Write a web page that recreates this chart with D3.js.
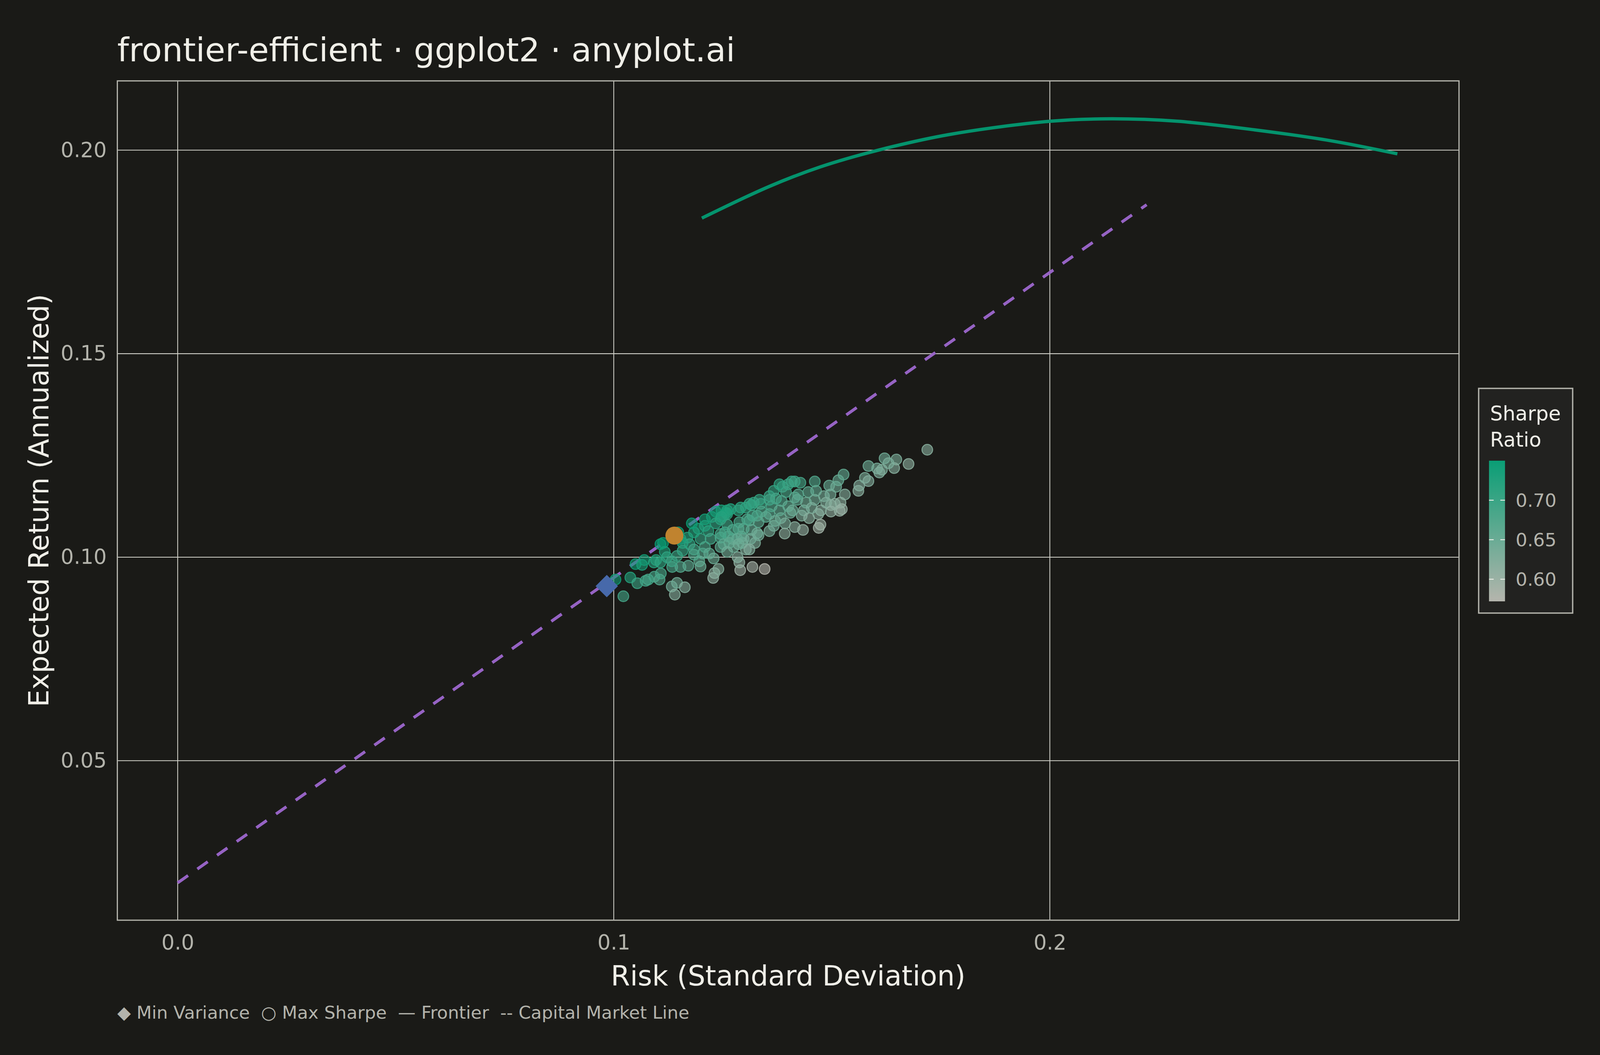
<!DOCTYPE html>
<html>
<head>
<meta charset="utf-8">
<script src="https://cdn.jsdelivr.net/npm/d3@7"></script>
<style>
  html, body { margin: 0; padding: 0; background: #1a1a17; overflow: hidden; }
  svg { display: block; width: 100vw; height: 100vh; font-family: "DejaVu Sans", sans-serif; }
</style>
</head>
<body>
<svg id="chart"></svg>
<script>
// random portfolios (risk, return, sharpe)
const portfolioRisk = [
  0.1004, 0.1022, 0.1038, 0.1050, 0.1054, 0.1065, 0.1070, 0.1073, 0.1079, 0.1093,
  0.1105, 0.1108, 0.1133, 0.1145, 0.1163, 0.1140, 0.1134, 0.1153, 0.1171, 0.1199,
  0.1228, 0.1231, 0.1240, 0.1290, 0.1288, 0.1284, 0.1318, 0.1346, 0.1113, 0.1117,
  0.1097, 0.1092, 0.1107, 0.1122, 0.1133, 0.1145, 0.1158, 0.1169, 0.1174, 0.1184,
  0.1194, 0.1199, 0.1204, 0.1209, 0.1217, 0.1225, 0.1222, 0.1234, 0.1245, 0.1255,
  0.1260, 0.1273, 0.1275, 0.1286, 0.1286, 0.1298, 0.1303, 0.1303, 0.1311, 0.1316,
  0.1324, 0.1321, 0.1329, 0.1332, 0.1329, 0.1332, 0.1293, 0.1263, 0.1252, 0.1337,
  0.1288, 0.1357, 0.1367, 0.1357, 0.1362, 0.1357, 0.1367, 0.1387, 0.1408, 0.1428,
  0.1395, 0.1385, 0.1383, 0.1393, 0.1392, 0.1415, 0.1434, 0.1405, 0.1415, 0.1423,
  0.1436, 0.1431, 0.1446, 0.1461, 0.1464, 0.1448, 0.1470, 0.1469, 0.1461, 0.1482,
  0.1494, 0.1497, 0.1498, 0.1510, 0.1515, 0.1527, 0.1530, 0.1518, 0.1520, 0.1561,
  0.1563, 0.1576, 0.1584, 0.1584, 0.1604, 0.1609, 0.1258, 0.1245, 0.1719, 0.1676,
  0.1648, 0.1643, 0.1621, 0.1630, 0.1615, 0.1474, 0.1234, 0.1260, 0.1316, 0.1184,
  0.1209, 0.1158, 0.1196, 0.1219, 0.1245, 0.1107, 0.1245, 0.1260, 0.1273, 0.1298,
  0.1306, 0.1318, 0.1339, 0.1349, 0.1370, 0.1380, 0.1400, 0.1410, 0.1421, 0.1441,
  0.1454, 0.1487, 0.1507, 0.1523, 0.1498, 0.1475, 0.1252, 0.1265, 0.1295, 0.1283,
  0.1314, 0.1247, 0.1268, 0.1291, 0.1311, 0.1334, 0.1357, 0.1372, 0.1380, 0.1400,
  0.1415, 0.1209, 0.1247, 0.1179, 0.1148, 0.1153, 0.1184, 0.1229, 0.1260, 0.1286,
  0.1311
];
const portfolioReturn = [
  0.0945, 0.0904, 0.0950, 0.0983, 0.0936, 0.0981, 0.0993, 0.0942, 0.0945, 0.0952,
  0.0945, 0.0960, 0.0928, 0.0937, 0.0926, 0.0908, 0.0976, 0.0976, 0.0979, 0.0977,
  0.0949, 0.0961, 0.0971, 0.0968, 0.0987, 0.1000, 0.0976, 0.0971, 0.1035, 0.1013,
  0.0993, 0.0987, 0.0987, 0.1000, 0.0990, 0.1003, 0.1016, 0.1048, 0.1032, 0.1019,
  0.1070, 0.1045, 0.1009, 0.1025, 0.1064, 0.1099, 0.1045, 0.1083, 0.1025, 0.1061,
  0.1106, 0.1045, 0.1025, 0.1115, 0.1070, 0.1045, 0.1122, 0.1019, 0.1090, 0.1067,
  0.1035, 0.1134, 0.1102, 0.1054, 0.1059, 0.1086, 0.1051, 0.1051, 0.1102, 0.1131,
  0.1086, 0.1064, 0.1077, 0.1106, 0.1125, 0.1150, 0.1163, 0.1173, 0.1186, 0.1183,
  0.1160, 0.1138, 0.1096, 0.1083, 0.1058, 0.1074, 0.1067, 0.1109, 0.1147, 0.1154,
  0.1115, 0.1102, 0.1160, 0.1186, 0.1163, 0.1096, 0.1072, 0.1106, 0.1141, 0.1150,
  0.1176, 0.1154, 0.1128, 0.1173, 0.1189, 0.1203, 0.1154, 0.1114, 0.1134, 0.1163,
  0.1176, 0.1195, 0.1187, 0.1224, 0.1218, 0.1208, 0.1109, 0.1093, 0.1264, 0.1229,
  0.1240, 0.1219, 0.1243, 0.1231, 0.1215, 0.1080, 0.1112, 0.1115, 0.1128, 0.1061,
  0.1077, 0.1035, 0.0990, 0.1009, 0.1048, 0.1032, 0.1057, 0.1080, 0.1067, 0.1070,
  0.1093, 0.1102, 0.1112, 0.1099, 0.1089, 0.1115, 0.1125, 0.1115, 0.1141, 0.1134,
  0.1121, 0.1134, 0.1131, 0.1118, 0.1112, 0.1115, 0.1032, 0.1035, 0.1035, 0.1045,
  0.1045, 0.1115, 0.1118, 0.1122, 0.1131, 0.1141, 0.1141, 0.1144, 0.1179, 0.1179,
  0.1186, 0.1093, 0.1099, 0.1083, 0.1061, 0.1045, 0.1006, 0.0997, 0.1013, 0.1032,
  0.1019
];
const portfolioSharpe = [
  0.742, 0.689, 0.723, 0.746, 0.698, 0.733, 0.741, 0.692, 0.690, 0.688,
  0.674, 0.686, 0.643, 0.644, 0.624, 0.621, 0.684, 0.673, 0.665, 0.648,
  0.610, 0.618, 0.622, 0.595, 0.611, 0.623, 0.589, 0.573, 0.750, 0.728,
  0.723, 0.721, 0.711, 0.713, 0.697, 0.701, 0.705, 0.725, 0.709, 0.692,
  0.729, 0.705, 0.672, 0.682, 0.710, 0.734, 0.691, 0.716, 0.663, 0.686,
  0.719, 0.664, 0.647, 0.712, 0.677, 0.651, 0.708, 0.629, 0.679, 0.659,
  0.631, 0.707, 0.679, 0.641, 0.646, 0.665, 0.658, 0.674, 0.720, 0.696,
  0.688, 0.637, 0.642, 0.668, 0.679, 0.700, 0.704, 0.702, 0.700, 0.688,
  0.688, 0.677, 0.648, 0.634, 0.616, 0.618, 0.605, 0.647, 0.669, 0.670,
  0.637, 0.630, 0.664, 0.675, 0.658, 0.619, 0.593, 0.617, 0.644, 0.641,
  0.653, 0.637, 0.619, 0.644, 0.653, 0.657, 0.624, 0.602, 0.614, 0.617,
  0.624, 0.631, 0.623, 0.646, 0.635, 0.626, 0.723, 0.717, 0.619, 0.614,
  0.631, 0.620, 0.643, 0.633, 0.628, 0.597, 0.739, 0.726, 0.705, 0.727,
  0.725, 0.721, 0.661, 0.664, 0.681, 0.750, 0.688, 0.698, 0.681, 0.670,
  0.684, 0.684, 0.681, 0.666, 0.649, 0.663, 0.661, 0.649, 0.662, 0.648,
  0.633, 0.628, 0.618, 0.603, 0.609, 0.620, 0.665, 0.660, 0.645, 0.659,
  0.643, 0.734, 0.724, 0.714, 0.710, 0.705, 0.693, 0.688, 0.709, 0.699,
  0.697, 0.739, 0.721, 0.749, 0.750, 0.733, 0.681, 0.649, 0.645, 0.647,
  0.625
];

// efficient frontier curve
const frontierRisk   = [0.1202, 0.1357, 0.1474, 0.1603, 0.1767, 0.2001, 0.2141, 0.2293, 0.2469, 0.2645, 0.2797];
const frontierReturn = [0.1833, 0.1911, 0.1959, 0.1999, 0.2038, 0.2071, 0.2077, 0.2071, 0.2050, 0.2023, 0.1991];

// capital market line
const cmlRisk   = [0.0, 0.2222];
const cmlReturn = [0.0200, 0.1866];

// highlighted portfolios
const minVariance = [0.0984, 0.0929];
const maxSharpe   = [0.1139, 0.1053];

const xTicks = [0.0, 0.1, 0.2];
const yTicks = [0.05, 0.10, 0.15, 0.20];
const sharpeTicks = [0.60, 0.65, 0.70];
const sharpeDomain = [0.572, 0.750];

// layout is laid out for 4800x2700; vertical positions follow the real viewport shape
const W = 4800, H = 2700;
const vw = window.innerWidth || W, vh = window.innerHeight || H;
const HV = W * vh / vw;
const sy = HV / H;
const Y = v => v * sy;

const panel = { left: 352, right: 4377, top: Y(207), bottom: Y(2355) };

const bg = "#1a1a17";
const inkTitle = "#f0efe8";
const inkSoft = "#b3b3ab";

const svg = d3.select("#chart")
  .attr("viewBox", `0 0 ${W} ${HV}`)
  .attr("preserveAspectRatio", "xMidYMid meet");

svg.append("rect").attr("width", W).attr("height", HV).attr("fill", bg);

const x = d3.scaleLinear().domain([-0.01384, 0.29383]).range([panel.left, panel.right]);
const y = d3.scaleLinear().domain([0.01081, 0.21702]).range([panel.bottom, panel.top]);
const color = d3.scaleLinear()
  .domain(sharpeDomain)
  .range(["#b5b5ad", "#0a9e75"])
  .interpolate(d3.interpolateRgb)
  .clamp(true);

// grid
const grid = svg.append("g").attr("class", "grid");
grid.selectAll("line.gx").data(xTicks).join("line")
  .attr("class", "gx")
  .attr("x1", d => x(d)).attr("x2", d => x(d))
  .attr("y1", panel.top).attr("y2", panel.bottom)
  .attr("stroke", "#d4d4cc").attr("stroke-width", 2.4);
grid.selectAll("line.gy").data(yTicks).join("line")
  .attr("class", "gy")
  .attr("x1", panel.left).attr("x2", panel.right)
  .attr("y1", d => y(d)).attr("y2", d => y(d))
  .attr("stroke", "#d4d4cc").attr("stroke-width", 2.4);

// axes (labels only)
const xAxis = d3.axisBottom(x).tickValues(xTicks).tickSize(0).tickPadding(Y(76) - 45).tickFormat(d3.format(".1f"));
const gx = svg.append("g").attr("transform", `translate(0,${panel.bottom})`).call(xAxis);
const yAxis = d3.axisLeft(y).tickValues(yTicks).tickSize(0).tickPadding(32).tickFormat(d3.format(".2f"));
const gy = svg.append("g").attr("transform", `translate(${panel.left},0)`).call(yAxis);
[gx, gy].forEach(g => {
  g.select(".domain").remove();
  g.selectAll("text")
    .attr("fill", inkSoft)
    .style("font-size", "62px")
    .style("font-family", "DejaVu Sans, sans-serif");
});

// capital market line
const line = d3.line().x(d => x(d[0])).y(d => y(d[1]));
svg.append("path")
  .datum(d3.zip(cmlRisk, cmlReturn))
  .attr("d", line)
  .attr("fill", "none")
  .attr("stroke", "#9663c4")
  .attr("stroke-width", 9)
  .attr("stroke-dasharray", "38,34");

// frontier
svg.append("path")
  .datum(d3.zip(frontierRisk, frontierReturn))
  .attr("d", line.curve(d3.curveCatmullRom))
  .attr("fill", "none")
  .attr("stroke", "#04936d")
  .attr("stroke-width", 10);

// portfolios
svg.append("g").selectAll("circle")
  .data(d3.range(portfolioRisk.length))
  .join("circle")
  .attr("cx", i => x(portfolioRisk[i]))
  .attr("cy", i => y(portfolioReturn[i]))
  .attr("r", 16)
  .attr("fill", i => color(portfolioSharpe[i]))
  .attr("fill-opacity", 0.6)
  .attr("stroke", i => color(portfolioSharpe[i]))
  .attr("stroke-opacity", 0.85)
  .attr("stroke-width", 3);

// min variance diamond
svg.append("path")
  .attr("d", d3.symbol(d3.symbolSquare, 2256)())
  .attr("transform", `translate(${x(minVariance[0])},${y(minVariance[1])}) rotate(45)`)
  .attr("fill", "#4769aa");

// max sharpe point
svg.append("circle")
  .attr("cx", x(maxSharpe[0]))
  .attr("cy", y(maxSharpe[1]))
  .attr("r", 27)
  .attr("fill", "#c0832f");

// panel border
svg.append("rect")
  .attr("x", panel.left).attr("y", panel.top)
  .attr("width", panel.right - panel.left)
  .attr("height", panel.bottom - panel.top)
  .attr("fill", "none")
  .attr("stroke", "#b8b8b0")
  .attr("stroke-width", 3.5);

// titles
svg.append("text")
  .attr("x", panel.left).attr("y", Y(157))
  .attr("fill", inkTitle)
  .style("font-size", "99px")
  .text("frontier-efficient · ggplot2 · anyplot.ai");

svg.append("text")
  .attr("x", (panel.left + panel.right) / 2).attr("y", Y(2522))
  .attr("text-anchor", "middle")
  .attr("fill", inkTitle)
  .style("font-size", "83px")
  .text("Risk (Standard Deviation)");

svg.append("text")
  .attr("transform", `translate(145,${(panel.top + panel.bottom) / 2}) rotate(-90)`)
  .attr("text-anchor", "middle")
  .attr("fill", inkTitle)
  .style("font-size", "83px")
  .text("Expected Return (Annualized)");

svg.append("text")
  .attr("x", panel.left).attr("y", Y(2607))
  .attr("fill", inkSoft)
  .style("font-size", "53px")
  .style("white-space", "pre")
  .text("◆ Min Variance  ○ Max Sharpe  — Frontier  -- Capital Market Line");

// colour legend
const leg = { x: 4436, y: Y(994), w: 282, h: Y(575) };
const bar = { x: 4467, y: Y(1179), w: 48, h: Y(360) };
const lg = svg.append("g");
lg.append("rect")
  .attr("x", leg.x).attr("y", leg.y).attr("width", leg.w).attr("height", leg.h)
  .attr("fill", "#222220").attr("stroke", "#b3b3ab").attr("stroke-width", 4);
lg.append("text").attr("x", 4470).attr("y", Y(1076))
  .attr("fill", inkTitle).style("font-size", "60px").text("Sharpe");
lg.append("text").attr("x", 4470).attr("y", Y(1143))
  .attr("fill", inkTitle).style("font-size", "60px").text("Ratio");

const barScale = d3.scaleLinear().domain(sharpeDomain).range([bar.y + bar.h, bar.y]);
const grad = svg.append("defs").append("linearGradient")
  .attr("id", "sharpeGrad")
  .attr("x1", 0).attr("y1", 1).attr("x2", 0).attr("y2", 0);
d3.range(0, 1.0001, 0.1).forEach(t => {
  grad.append("stop")
    .attr("offset", t)
    .attr("stop-color", color(sharpeDomain[0] + t * (sharpeDomain[1] - sharpeDomain[0])));
});
lg.append("rect")
  .attr("x", bar.x).attr("y", bar.y).attr("width", bar.w).attr("height", bar.h)
  .attr("fill", "url(#sharpeGrad)");
sharpeTicks.forEach(v => {
  const ty = barScale(v);
  lg.append("line").attr("x1", bar.x).attr("x2", bar.x + 14).attr("y1", ty).attr("y2", ty)
    .attr("stroke", "#f4f4ee").attr("stroke-width", 2.5);
  lg.append("line").attr("x1", bar.x + bar.w - 14).attr("x2", bar.x + bar.w).attr("y1", ty).attr("y2", ty)
    .attr("stroke", "#f4f4ee").attr("stroke-width", 2.5);
  lg.append("text").attr("x", 4547).attr("y", ty).attr("dy", "0.35em")
    .attr("fill", inkSoft).style("font-size", "55px").text(d3.format(".2f")(v));
});
</script>
</body>
</html>
